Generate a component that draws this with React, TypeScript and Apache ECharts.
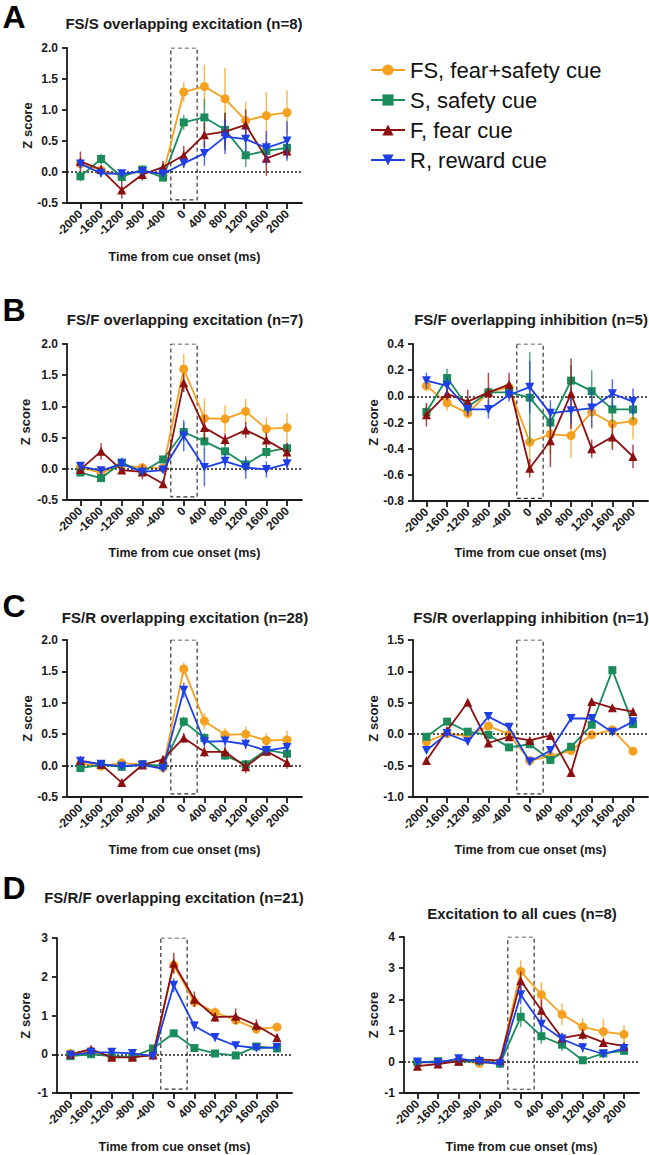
import React, { useEffect, useRef } from 'react';
import * as echarts from 'echarts';

const TIMES = [-2000, -1600, -1200, -800, -400, 0, 400, 800, 1200, 1600, 2000];
const NAMES = ['FS, fear+safety cue', 'S, safety cue', 'F, fear cue', 'R, reward cue'];
const COLORS = ['#F6A01F', '#1A8C5C', '#8C1010', '#1F3FE6'];

// Panel A: FS/S overlapping excitation (n=8)
const A_FS = [0.13, 0.03, -0.06, 0.02, -0.04, 1.29, 1.38, 1.18, 0.83, 0.91, 0.96];
const A_S = [-0.07, 0.21, -0.08, 0.04, -0.09, 0.8, 0.88, 0.68, 0.27, 0.34, 0.39];
const A_F = [0.17, 0.04, -0.29, -0.04, 0.08, 0.27, 0.6, 0.65, 0.76, 0.22, 0.34];
const A_R = [0.13, -0.02, -0.03, 0.01, -0.03, 0.14, 0.3, 0.57, 0.53, 0.39, 0.5];
const A_FS_E = [0.05, 0.05, 0.08, 0.05, 0.05, 0.16, 0.35, 0.5, 0.3, 0.38, 0.36];
const A_S_E = [0.08, 0.08, 0.08, 0.06, 0.06, 0.12, 0.3, 0.28, 0.19, 0.15, 0.12];
const A_F_E = [0.16, 0.08, 0.14, 0.1, 0.1, 0.15, 0.2, 0.3, 0.25, 0.28, 0.12];
const A_R_E = [0.06, 0.06, 0.04, 0.04, 0.04, 0.08, 0.2, 0.28, 0.2, 0.27, 0.32];

// Panel B left: FS/F overlapping excitation (n=7)
const B_FS = [0.02, -0.06, 0.06, 0.02, 0.01, 1.6, 0.81, 0.8, 0.92, 0.64, 0.66];
const B_S = [-0.06, -0.15, 0.1, -0.05, 0.15, 0.59, 0.44, 0.28, 0.07, 0.27, 0.33];
const B_F = [-0.01, 0.28, -0.02, -0.05, -0.24, 1.38, 0.66, 0.47, 0.62, 0.46, 0.27];
const B_R = [0.04, -0.03, 0.08, -0.05, -0.02, 0.53, 0.02, 0.12, 0.02, -0.01, 0.08];
const B_FS_E = [0.05, 0.05, 0.06, 0.05, 0.05, 0.24, 0.32, 0.22, 0.2, 0.18, 0.23];
const B_S_E = [0.05, 0.05, 0.06, 0.05, 0.05, 0.15, 0.14, 0.12, 0.1, 0.1, 0.08];
const B_F_E = [0.05, 0.13, 0.06, 0.12, 0.05, 0.15, 0.2, 0.1, 0.13, 0.12, 0.15];
const B_R_E = [0.04, 0.04, 0.1, 0.05, 0.04, 0.25, 0.3, 0.12, 0.18, 0.13, 0.1];

// Panel B right: FS/F overlapping inhibition (n=5)
const BR_FS = [0.08, -0.05, -0.13, 0.03, 0.07, -0.35, -0.29, -0.3, -0.12, -0.21, -0.19];
const BR_S = [-0.12, 0.14, -0.08, 0.03, 0.03, -0.01, -0.2, 0.12, 0.04, -0.1, -0.1];
const BR_F = [-0.14, 0.02, -0.04, 0.03, 0.09, -0.55, -0.34, 0.02, -0.4, -0.31, -0.46];
const BR_R = [0.12, 0.08, -0.1, -0.1, 0.01, 0.07, -0.13, -0.11, -0.09, 0.02, -0.04];
const BR_FS_E = [0.04, 0.06, 0.04, 0.04, 0.04, 0.15, 0.15, 0.17, 0.13, 0.18, 0.14];
const BR_S_E = [0.05, 0.07, 0.06, 0.04, 0.03, 0.35, 0.06, 0.12, 0.16, 0.1, 0.08];
const BR_F_E = [0.09, 0.05, 0.09, 0.15, 0.09, 0.07, 0.2, 0.27, 0.07, 0.1, 0.09];
const BR_R_E = [0.06, 0.07, 0.05, 0.07, 0.05, 0.2, 0.1, 0.1, 0.15, 0.11, 0.1];

// Panel C left: FS/R overlapping excitation (n=28)
const C_FS = [0.03, -0.01, 0.04, 0.02, -0.03, 1.54, 0.71, 0.49, 0.5, 0.4, 0.41];
const C_S = [-0.04, 0.01, -0.02, 0.02, 0.0, 0.7, 0.44, 0.16, 0.02, 0.25, 0.19];
const C_F = [0.08, 0.02, -0.27, 0.01, 0.1, 0.44, 0.22, 0.22, -0.02, 0.23, 0.05];
const C_R = [0.07, 0.02, -0.01, 0.01, -0.05, 1.2, 0.38, 0.39, 0.34, 0.24, 0.29];
const C_FS_E = [0.04, 0.03, 0.03, 0.03, 0.03, 0.1, 0.13, 0.11, 0.12, 0.11, 0.15];
const C_S_E = [0.04, 0.03, 0.03, 0.03, 0.03, 0.08, 0.08, 0.07, 0.07, 0.07, 0.07];
const C_F_E = [0.07, 0.04, 0.04, 0.04, 0.04, 0.08, 0.08, 0.08, 0.1, 0.08, 0.1];
const C_R_E = [0.07, 0.04, 0.04, 0.04, 0.04, 0.12, 0.08, 0.09, 0.08, 0.07, 0.08];

// Panel C right: FS/R overlapping inhibition (n=1)
const CR_FS = [-0.12, 0.01, -0.03, 0.13, 0.0, -0.42, -0.35, -0.26, -0.01, 0.07, -0.27];
const CR_S = [-0.04, 0.2, 0.04, -0.01, -0.21, -0.16, -0.41, -0.2, 0.15, 1.02, 0.16];
const CR_F = [-0.42, 0.06, 0.51, -0.14, -0.04, -0.1, -0.02, -0.61, 0.52, 0.42, 0.36];
const CR_R = [-0.26, 0.01, -0.12, 0.28, 0.11, -0.44, -0.26, 0.25, 0.25, 0.03, 0.2];

// Panel D left: FS/R/F overlapping excitation (n=21)
const D_FS = [0.02, 0.08, -0.07, -0.07, -0.02, 2.3, 1.35, 1.08, 0.88, 0.65, 0.7];
const D_S = [-0.05, 0.0, -0.05, -0.07, 0.15, 0.54, 0.16, 0.02, -0.03, 0.2, 0.15];
const D_F = [0.0, 0.13, -0.08, -0.08, -0.02, 2.35, 1.42, 0.96, 0.98, 0.75, 0.43];
const D_R = [-0.02, 0.05, 0.05, 0.02, -0.05, 1.78, 0.73, 0.43, 0.22, 0.16, 0.18];
const D_FS_E = [0.04, 0.04, 0.04, 0.04, 0.04, 0.2, 0.14, 0.13, 0.13, 0.12, 0.1];
const D_S_E = [0.03, 0.03, 0.03, 0.03, 0.03, 0.06, 0.06, 0.05, 0.04, 0.06, 0.05];
const D_F_E = [0.04, 0.06, 0.04, 0.04, 0.04, 0.27, 0.2, 0.12, 0.2, 0.15, 0.1];
const D_R_E = [0.03, 0.03, 0.04, 0.04, 0.04, 0.18, 0.13, 0.1, 0.07, 0.07, 0.06];

// Panel D right: Excitation to all cues (n=8)
const DR_FS = [-0.03, 0.0, 0.05, -0.05, -0.02, 2.9, 2.15, 1.52, 1.12, 0.97, 0.88];
const DR_S = [-0.02, 0.02, 0.0, 0.03, -0.06, 1.44, 0.82, 0.55, 0.05, 0.27, 0.35];
const DR_F = [-0.14, -0.07, 0.02, 0.08, 0.04, 2.6, 1.65, 0.76, 0.88, 0.62, 0.5];
const DR_R = [-0.01, -0.02, 0.1, 0.01, -0.07, 2.15, 1.2, 0.73, 0.45, 0.25, 0.43];
const DR_FS_E = [0.05, 0.05, 0.05, 0.05, 0.05, 0.35, 0.4, 0.35, 0.28, 0.4, 0.3];
const DR_S_E = [0.04, 0.04, 0.04, 0.04, 0.04, 0.32, 0.25, 0.2, 0.08, 0.12, 0.1];
const DR_F_E = [0.06, 0.05, 0.05, 0.05, 0.05, 0.3, 0.35, 0.15, 0.17, 0.12, 0.08];
const DR_R_E = [0.04, 0.04, 0.1, 0.05, 0.04, 0.3, 0.25, 0.2, 0.15, 0.1, 0.1];

const BOX_X = [-250, 260];

const FONT = '"Liberation Sans", Arial, Helvetica, sans-serif';
const INK = '#1a1a1a';

const PANELS = [
  { title: 'FS/S overlapping excitation (n=8)', tx: 184, ty: 23, letter: 'A', ly: 17,
    grid: { left: 67, top: 48, width: 235, height: 155 }, ymin: -0.5, ymax: 2, step: 0.5, dec: 1, boxBottom: -0.45,
    vals: [A_FS, A_S, A_F, A_R], errs: [A_FS_E, A_S_E, A_F_E, A_R_E], xname: 257, yname: 40 },
  { title: 'FS/F overlapping excitation (n=7)', tx: 185, ty: 319, letter: 'B', ly: 310,
    grid: { left: 67, top: 344, width: 235, height: 156 }, ymin: -0.5, ymax: 2, step: 0.5, dec: 1, boxBottom: -0.45,
    vals: [B_FS, B_S, B_F, B_R], errs: [B_FS_E, B_S_E, B_F_E, B_R_E], xname: 553, yname: 42 },
  { title: 'FS/F overlapping inhibition (n=5)', tx: 531, ty: 319, letter: '', ly: 0,
    grid: { left: 413, top: 344, width: 235, height: 157 }, ymin: -0.8, ymax: 0.4, step: 0.2, dec: 1, boxBottom: -0.78,
    vals: [BR_FS, BR_S, BR_F, BR_R], errs: [BR_FS_E, BR_S_E, BR_F_E, BR_R_E], xname: 553, yname: 40 },
  { title: 'FS/R overlapping excitation (n=28)', tx: 185, ty: 617, letter: 'C', ly: 606,
    grid: { left: 67, top: 640, width: 235, height: 157 }, ymin: -0.5, ymax: 2, step: 0.5, dec: 1, boxBottom: -0.45,
    vals: [C_FS, C_S, C_F, C_R], errs: [C_FS_E, C_S_E, C_F_E, C_R_E], xname: 850, yname: 40 },
  { title: 'FS/R overlapping inhibition (n=1)', tx: 531, ty: 617, letter: '', ly: 0,
    grid: { left: 413, top: 640, width: 235, height: 157 }, ymin: -1, ymax: 1.5, step: 0.5, dec: 1, boxBottom: -0.95,
    vals: [CR_FS, CR_S, CR_F, CR_R], errs: null, xname: 850, yname: 40 },
  { title: 'FS/R/F overlapping excitation (n=21)', tx: 174, ty: 897, letter: 'D', ly: 888,
    grid: { left: 57, top: 938, width: 235, height: 155 }, ymin: -1, ymax: 3, step: 1, dec: 0, boxBottom: -0.9,
    vals: [D_FS, D_S, D_F, D_R], errs: [D_FS_E, D_S_E, D_F_E, D_R_E], xname: 1147, yname: 32 },
  { title: 'Excitation to all cues (n=8)', tx: 522, ty: 913, letter: '', ly: 0,
    grid: { left: 404, top: 937, width: 235, height: 156 }, ymin: -1, ymax: 4, step: 1, dec: 0, boxBottom: -0.88,
    vals: [DR_FS, DR_S, DR_F, DR_R], errs: [DR_FS_E, DR_S_E, DR_F_E, DR_R_E], xname: 1147, yname: 31 },
];

const SYMBOLS = ['circle', 'rect', 'triangle', 'path://M0,0L10,0L5,9Z'];
const SYMBOL_SIZES = [9, 8, 9, 9];

function buildOption() {
  const grids: any[] = [];
  const xAxes: any[] = [];
  const yAxes: any[] = [];
  const series: any[] = [];
  const graphic: any[] = [];

  PANELS.forEach((p, i) => {
    grids.push({ ...p.grid, containLabel: false });
    xAxes.push({
      type: 'value', gridIndex: i, min: -2260, max: 2290,
      axisLine: { show: true, onZero: false, lineStyle: { color: INK, width: 1.8 } },
      axisTick: { show: true, length: 6, customValues: TIMES, lineStyle: { color: INK, width: 1.8 } },
      axisLabel: {
        customValues: TIMES, rotate: 45, margin: 9, fontSize: 12, fontWeight: 'bold',
        fontFamily: FONT, color: INK, formatter: (v: number) => String(v),
      },
      splitLine: { show: false },
    });
    yAxes.push({
      type: 'value', gridIndex: i, min: p.ymin, max: p.ymax, interval: p.step,
      axisLine: { show: true, onZero: false, lineStyle: { color: INK, width: 1.8 } },
      axisTick: { show: true, length: 5, lineStyle: { color: INK, width: 1.8 } },
      axisLabel: {
        margin: 9, fontSize: 12, fontWeight: 'bold', fontFamily: FONT, color: INK,
        formatter: (v: number) => (Math.abs(v) < 1e-9 ? 0 : v).toFixed(p.dec),
      },
      splitLine: { show: false },
    });

    // dashed analysis window
    series.push({
      type: 'line', xAxisIndex: i, yAxisIndex: i, silent: true, symbol: 'none', z: 1,
      data: [[BOX_X[0], p.ymax], [BOX_X[1], p.ymax], [BOX_X[1], p.boxBottom], [BOX_X[0], p.boxBottom], [BOX_X[0], p.ymax]],
      lineStyle: { color: '#333', width: 1.2, type: [4, 3] },
      markLine: {
        silent: true, symbol: 'none', label: { show: false },
        lineStyle: { color: INK, width: 1.6, type: [2, 2] },
        data: [{ yAxis: 0 }],
      },
    });

    p.vals.forEach((vals, j) => {
      if (p.errs) {
        const errs = p.errs[j];
        series.push({
          type: 'custom', name: NAMES[j] + ' SEM', xAxisIndex: i, yAxisIndex: i, z: 2 + j * 2, silent: true,
          data: TIMES.map((t, k) => [t, vals[k], errs[k]]),
          renderItem: (_params: any, api: any) => {
            const x = api.value(0), y = api.value(1), e = api.value(2);
            const a = api.coord([x, y - e]);
            const b = api.coord([x, y + e]);
            return {
              type: 'line',
              shape: { x1: a[0], y1: a[1], x2: b[0], y2: b[1] },
              style: { stroke: COLORS[j], lineWidth: 1.5, opacity: 0.75 },
            };
          },
        });
      }
      series.push({
        type: 'line', name: NAMES[j], xAxisIndex: i, yAxisIndex: i, z: 3 + j * 2,
        data: TIMES.map((t, k) => [t, vals[k]]),
        symbol: SYMBOLS[j], symbolSize: SYMBOL_SIZES[j], showSymbol: true,
        itemStyle: { color: COLORS[j] },
        lineStyle: { color: COLORS[j], width: 1.8 },
      });
    });

    graphic.push({
      type: 'text', x: p.tx, y: p.ty, silent: true,
      style: { text: p.title, fill: INK, fontSize: 15, fontWeight: 'bold', fontFamily: FONT, align: 'center', verticalAlign: 'middle' },
    });
    if (p.letter) {
      graphic.push({
        type: 'text', x: 14, y: p.ly, silent: true,
        style: { text: p.letter, fill: '#000', fontSize: 32, fontWeight: 'bold', fontFamily: FONT, align: 'center', verticalAlign: 'middle' },
      });
    }
    graphic.push({
      type: 'text', x: p.grid.left + p.grid.width / 2, y: p.xname, silent: true,
      style: { text: 'Time from cue onset (ms)', fill: INK, fontSize: 12.5, fontWeight: 'bold', fontFamily: FONT, align: 'center', verticalAlign: 'middle' },
    });
    graphic.push({
      type: 'text', x: p.grid.left - p.yname, y: p.grid.top + p.grid.height / 2, rotation: Math.PI / 2, silent: true,
      style: { text: 'Z score', fill: INK, fontSize: 13, fontWeight: 'bold', fontFamily: FONT, align: 'center', verticalAlign: 'middle' },
    });
  });

  return {
    animation: false,
    backgroundColor: '#ffffff',
    grid: grids,
    xAxis: xAxes,
    yAxis: yAxes,
    series,
    graphic,
    legend: {
      data: NAMES, orient: 'vertical', left: 365, top: 54, itemWidth: 34, itemHeight: 14, itemGap: 8,
      selectedMode: false,
      textStyle: { fontSize: 22, fontFamily: FONT, color: '#111' },
    },
  };
}

export default function App() {
  const ref = useRef<HTMLDivElement>(null);
  useEffect(() => {
    if (!ref.current) return;
    const chart = echarts.init(ref.current, null, { renderer: 'svg' });
    chart.setOption(buildOption() as any);
    return () => chart.dispose();
  }, []);
  return (
    <div
      ref={ref}
      style={{ position: 'absolute', left: 0, top: 0, width: 649, height: 1155, background: '#fff' }}
    />
  );
}
